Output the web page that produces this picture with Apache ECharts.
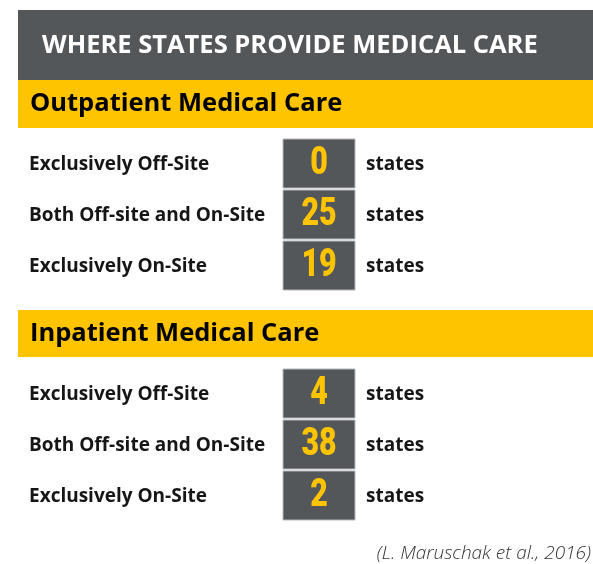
<!DOCTYPE html>
<html lang="en">
<head>
    <meta charset="UTF-8">
    <title>Where states provide medical care</title>
    <script src="https://cdn.jsdelivr.net/npm/echarts@6/dist/echarts.min.js"></script>
    <style>
        body {
            margin: 0;
            padding: 0;
            background: #fff;
        }

        #box {
            width: 593px;
            height: 564px;
        }
    </style>
</head>
<body>
<div id="box"></div>

<script>
    // data
    var chartTitle = 'WHERE STATES PROVIDE MEDICAL CARE';
    var sectionTitles = ['Outpatient Medical Care', 'Inpatient Medical Care'];
    var rowLabels = ['Exclusively Off-Site', 'Both Off-site and On-Site', 'Exclusively On-Site'];
    var outpatientCounts = [0, 25, 19];
    var inpatientCounts = [4, 38, 2];
    var unitLabel = 'states';
    var sourceNote = '(L. Maruschak et al., 2016)';

    var DARK = '#54575a';
    var YELLOW = '#fec400';
    var TEXT_FONT = '"Open Sans", Lato, sans-serif';
    var NUM_FONT = 'Roboto, "Open Sans", sans-serif';

    // draws one count box per category band
    function renderBox(params, api) {
        var cs = params.coordSys;
        var c = api.coord([0, api.value(1)]);
        var band = api.size([0, 1])[1];
        var top = c[1] - band / 2;
        var cx = cs.x + cs.width / 2;
        var cy = top + (band - 2) / 2 + 1;
        return {
            type: 'group',
            children: [
                {
                    type: 'rect',
                    shape: {x: cs.x, y: top, width: cs.width, height: band - 2},
                    style: {fill: DARK, stroke: '#b5b7b9', lineWidth: 1}
                },
                {
                    type: 'text',
                    x: cx,
                    y: cy,
                    scaleX: 0.8,
                    style: {
                        text: String(api.value(2)),
                        x: 0,
                        y: 0,
                        textAlign: 'center',
                        textVerticalAlign: 'middle',
                        fill: YELLOW,
                        fontSize: 38,
                        fontWeight: 900,
                        fontFamily: NUM_FONT
                    }
                }
            ]
        };
    }

    function makeY(idx, pos) {
        var isLeft = pos === 'left';
        return {
            type: 'category',
            gridIndex: idx,
            position: pos,
            inverse: true,
            data: rowLabels,
            axisLine: {show: false},
            axisTick: {show: false},
            splitLine: {show: false},
            axisLabel: {
                align: 'left',
                margin: isLeft ? 254 : 11,
                color: '#161616',
                fontSize: 19,
                fontWeight: 'bold',
                fontFamily: TEXT_FONT,
                formatter: isLeft ? undefined : function () { return unitLabel; }
            }
        };
    }

    function makeX(idx) {
        return {type: 'value', gridIndex: idx, min: 0, max: 1, show: false};
    }

    var myChart = echarts.init(document.getElementById('box'), null, {renderer: 'canvas'});

    var option = {
        animation: false,
        backgroundColor: '#fff',
        grid: [
            {left: 283, top: 139, width: 72, height: 153},
            {left: 283, top: 369, width: 72, height: 153}
        ],
        xAxis: [makeX(0), makeX(1)],
        yAxis: [makeY(0, 'left'), makeY(0, 'right'), makeY(1, 'left'), makeY(1, 'right')],
        series: [
            {
                type: 'custom',
                xAxisIndex: 0,
                yAxisIndex: 0,
                renderItem: renderBox,
                encode: {x: 0, y: 1},
                data: outpatientCounts.map(function (v, i) { return [0, i, v]; })
            },
            {
                type: 'custom',
                xAxisIndex: 1,
                yAxisIndex: 2,
                renderItem: renderBox,
                encode: {x: 0, y: 1},
                data: inpatientCounts.map(function (v, i) { return [0, i, v]; })
            }
        ],
        graphic: [
            {type: 'rect', shape: {x: 18, y: 10, width: 575, height: 70}, style: {fill: DARK}},
            {
                type: 'text', x: 42, y: 46,
                style: {
                    text: chartTitle, fill: '#fff', fontSize: 25.5, fontWeight: 'bold',
                    fontFamily: TEXT_FONT, textVerticalAlign: 'middle'
                }
            },
            {type: 'rect', shape: {x: 18, y: 80, width: 575, height: 48}, style: {fill: YELLOW}},
            {
                type: 'text', x: 30, y: 104,
                style: {
                    text: sectionTitles[0], fill: '#000', fontSize: 25.5, fontWeight: 'bold',
                    fontFamily: TEXT_FONT, textVerticalAlign: 'middle'
                }
            },
            {type: 'rect', shape: {x: 18, y: 310, width: 575, height: 47}, style: {fill: YELLOW}},
            {
                type: 'text', x: 30, y: 334,
                style: {
                    text: sectionTitles[1], fill: '#000', fontSize: 25.5, fontWeight: 'bold',
                    fontFamily: TEXT_FONT, textVerticalAlign: 'middle'
                }
            },
            {
                type: 'text', x: 591, y: 554,
                style: {
                    text: sourceNote, fill: '#333', fontSize: 19, fontStyle: 'italic',
                    fontWeight: 300, fontFamily: TEXT_FONT, textAlign: 'right', textVerticalAlign: 'middle'
                }
            }
        ]
    };

    myChart.setOption(option);
</script>
</body>
</html>
